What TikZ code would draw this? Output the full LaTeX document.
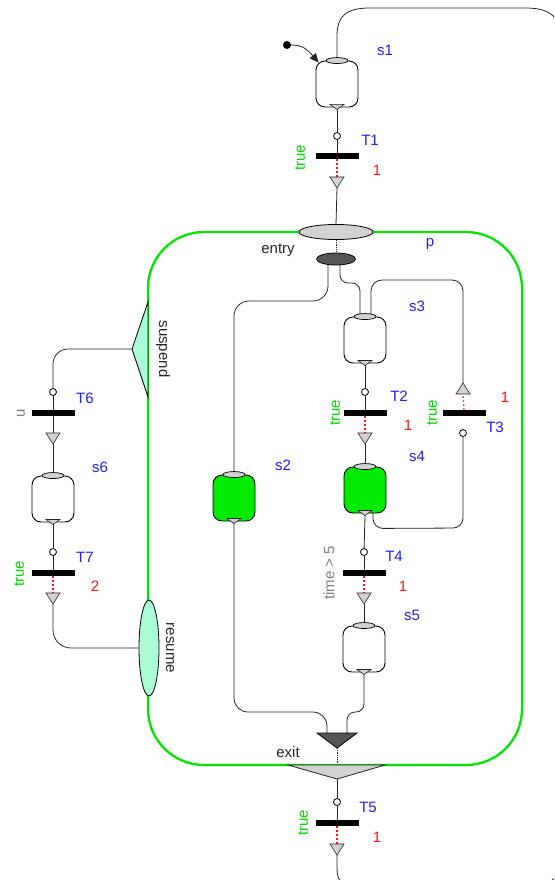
\documentclass[tikz,border=0pt]{standalone}
\usepackage{fontspec}
\setmainfont{Liberation Sans}
\usetikzlibrary{shapes.geometric,arrows.meta,calc,backgrounds}
\definecolor{stepgreen}{RGB}{0,235,0}
\definecolor{bgreen}{RGB}{0,230,0}
\definecolor{tgreen}{RGB}{0,215,0}
\definecolor{tblue}{RGB}{30,30,255}
\definecolor{tred}{RGB}{255,20,20}
\definecolor{tgray}{RGB}{128,128,128}
\definecolor{aqua}{RGB}{170,250,215}
\definecolor{portgray}{RGB}{210,210,210}
\definecolor{darkport}{RGB}{85,85,85}
\tikzset{
  stepbox/.style={draw, line width=0.9pt, rounded corners=9pt, minimum width=42pt, minimum height=46pt, inner sep=0pt, fill=white},
  activestep/.style={stepbox, fill=stepgreen},
  inport/.style={ellipse, draw, line width=0.7pt, fill=portgray, minimum width=22pt, minimum height=6pt, inner sep=0pt},
  tbar/.style={fill=black, minimum width=43pt, minimum height=6pt, inner sep=0pt},
  tcirc/.style={circle, draw, line width=0.8pt, fill=white, minimum size=7pt, inner sep=0pt},
  wire/.style={line width=0.8pt, draw=black!85},
  prio/.style={draw=tred, line width=1.4pt, dash pattern=on 1.4pt off 2.6pt},
  txt/.style={font=\fontsize{15}{17}\selectfont, inner sep=0pt},
  lblue/.style={txt, text=tblue},
  lred/.style={txt, text=tred},
  lgreen/.style={txt, text=tgreen, rotate=90},
  lgray/.style={txt, text=tgray, rotate=90},
  lblack/.style={txt, text=black!85},
  portfill/.style={fill=portgray, line width=0.6pt, draw=black!85},
}
\newcommand\outport[1]{%
  \draw[portfill] ($(#1.south)+(-7,-3)$) -- ($(#1.south)+(7,-3)$) -- ($(#1.south)+(0,2)$) -- cycle;
  \coordinate (#1o) at ($(#1.south)+(0,2)$);}
\newcommand\mkstep[4]{% name, style, x, y
  \node[#2] (#1) at (#3,#4) {};
  \node[inport] (#1i) at (#1.north) {};
  \outport{#1}}
\newcommand\mktrans[4]{% name, x, ycircle, ybar
  \node[tbar] (#1) at (#2,#4) {};
  \node[tcirc] (#1c) at (#2,#3) {};
  \begin{pgfonlayer}{background}\draw[wire] (#1c) -- (#1);\end{pgfonlayer}}
\newcommand\darr[3]{% name, x, ytop
  \draw[portfill] (#2-7,#3) -- (#2+7,#3) -- (#2,#3+11) -- cycle;
  \coordinate (#1t) at (#2,#3); \coordinate (#1b) at (#2,#3+11);}
\newcommand\uarr[3]{% name, x, ytip
  \draw[portfill] (#2-7,#3+11) -- (#2+7,#3+11) -- (#2,#3) -- cycle;
  \coordinate (#1t) at (#2,#3); \coordinate (#1b) at (#2,#3+11);}
\begin{document}
\begin{tikzpicture}[x=1pt,y=-1pt]
\useasboundingbox (0,0) rectangle (554,880);
% boundary of macro step p
\draw[bgreen, line width=2.3pt, rounded corners=56pt] (148,232) rectangle (522,765);
% entry / exit
\node[ellipse, draw, line width=0.8pt, fill=portgray, minimum width=74pt, minimum height=15pt, inner sep=0pt] (entry) at (336,232) {};
\node[ellipse, draw, line width=0.8pt, fill=darkport, minimum width=39pt, minimum height=12pt, inner sep=0pt] (entryin) at (336,259) {};
\draw[fill=darkport, line width=0.8pt] (317,733) -- (357,733) -- (337,748) -- cycle;
\coordinate (exl) at (327,733); \coordinate (exr) at (347,733); \coordinate (exa) at (337,748);
\draw[portfill, line width=0.8pt] (288,765) -- (385,765) -- (337,779) -- cycle;
\coordinate (ext) at (337,765); \coordinate (exb) at (337,779);
% suspend / resume
\draw[fill=aqua, line width=0.8pt] (148,302) -- (132,349) -- (148,397) -- cycle;
\coordinate (susp) at (132,349);
\node[ellipse, draw, line width=0.8pt, fill=aqua, minimum width=20pt, minimum height=96pt, inner sep=0pt] (resume) at (149,648) {};
% steps
\mkstep{s1}{stepbox}{337}{84}
\mkstep{s2}{activestep}{234}{498}
\mkstep{s3}{stepbox}{365}{340}
\mkstep{s4}{activestep}{365}{490}
\mkstep{s5}{stepbox}{364}{649}
\mkstep{s6}{stepbox}{53}{499}
% transitions
\mktrans{T1}{337}{136}{156}
\mktrans{T2}{365}{392}{413}
\node[tbar] (T3) at (464,413) {};
\node[tcirc] (T3c) at (463,433) {};
\mktrans{T4}{364}{552}{573}
\mktrans{T5}{337}{802}{823}
\mktrans{T6}{53}{392}{413}
\mktrans{T7}{53}{552}{573}
\darr{a1}{337}{177}
\darr{a2}{365}{433}
\uarr{a3}{463}{383}
\darr{a4}{364}{593}
\darr{a5}{337}{844}
\darr{a6}{53}{433}
\darr{a7}{53}{593}
% initial
\node[circle, fill=black, minimum size=8pt, inner sep=0pt] (init) at (287,45) {};
\draw[wire, -{Triangle[length=9pt,width=8pt]}] (init) .. controls (303,45) and (308,50) .. ($(s1.north west)+(3,2)$);
\begin{pgfonlayer}{background}
\draw[wire] (s1o) -- (T1c);
\draw[prio] (T1.south) -- (a1t);
\draw[wire] (a1b) -- (entry.north);
\draw[wire, densely dotted] (entry.south) -- (entryin.north);
\draw[wire, rounded corners=15pt] ($(entryin.center)+(-8,0)$) -- (328,301) -- (234,301) -- (s2i.center);
\draw[wire, rounded corners=8pt] ($(entryin.center)+(4,0)$) -- (340,283) -- (360,283) -- ($(s3i.center)+(-5,0)$);
\draw[wire, rounded corners=11pt] ($(s3i.center)+(6,0)$) -- (371,280) -- (463,280) -- (a3t);
\draw[wire] (s3o) -- (T2c);
\draw[prio] (T2.south) -- (a2t);
\draw[wire] (a2b) -- (s4i);
\draw[wire, rounded corners=10pt] ($(s4.south)+(8,-3)$) -- ($(s4.south)+(8,15)$) -- (463,528) -- (T3c);
\draw[prio] (T3.north) -- (a3b);
\draw[wire] (s4o) -- (T4c);
\draw[prio] (T4.south) -- (a4t);
\draw[wire] (a4b) -- (s5i);
\draw[wire, rounded corners=8pt] (s5o) -- (364,712) -- (347,712) -- (exr);
\draw[wire, rounded corners=14pt] (s2o) -- (234,712) -- (327,712) -- (exl);
\draw[wire, densely dotted] (exa) -- (ext);
\draw[wire] (exb) -- (T5c);
\draw[prio] (T5.south) -- (a5t);
\draw[wire, rounded corners=15pt] (susp) -- (53,349) -- (T6c);
\draw[wire] (T6) -- (a6t);
\draw[wire] (a6b) -- (s6i);
\draw[wire] (s6o) -- (T7c);
\draw[prio] (T7.south) -- (a7t);
\draw[wire, rounded corners=18pt] (a7b) -- (53,648) -- (resume.west);
\begin{scope}
\clip (0,0) rectangle (554,880);
\draw[wire] (a5b) -- (337,868) .. controls (337,881) and (341,884) .. (355,884) -- (535,884) .. controls (558,884) and (562,872) .. (562,850) -- (562,45) .. controls (562,16) and (550,8) .. (525,8) -- (370,8) .. controls (346,8) and (337,16) .. (337,36) -- (s1i.center);
\end{scope}
\end{pgfonlayer}
% labels
\node[lblue] (ls1) at (385,50) {s1};
\node[lblue] (ls2) at (283,465) {s2};
\node[lblue] (ls3) at (417,306) {s3};
\node[lblue] (ls4) at (417,456) {s4};
\node[lblue] (ls5) at (412,615) {s5};
\node[lblue] (ls6) at (100,467) {s6};
\node[lblue] (lp) at (430,244) {p};
\node[lblack] (lentry) at (278,250) {entry};
\node[lblack] (lexit) at (288,752) {exit};
\node[txt, rotate=-90, text=black!85] (lsusp) at (163,349) {suspend};
\node[txt, rotate=-90, text=black!85] (lres) at (170,648) {resume};
\node[lblue] (lT1) at (370,140) {T1};
\node[lred] (lp1) at (377,170) {1};
\node[lgreen] (lc1) at (300,158) {true};
\node[lblue] (lT2) at (399,396) {T2};
\node[lred] (lp2) at (408,425) {1};
\node[lgreen] (lc2) at (335,413) {true};
\node[lblue] (lT3) at (495,427) {T3};
\node[lred] (lp3) at (505,397) {1};
\node[lgreen] (lc3) at (432,413) {true};
\node[lblue] (lT4) at (394,556) {T4};
\node[lred] (lp4) at (403,586) {1};
\node[lgray] (lc4) at (329,573) {time > 5};
\node[lblue] (lT5) at (368,807) {T5};
\node[lred] (lp5) at (377,837) {1};
\node[lgreen] (lc5) at (303,823) {true};
\node[lblue] (lT6) at (85,398) {T6};
\node[lgray] (lc6) at (21,413) {u};
\node[lblue] (lT7) at (85,557) {T7};
\node[lred] (lp7) at (95,586) {2};
\node[lgreen] (lc7) at (19,574) {true};
\end{tikzpicture}
\end{document}
